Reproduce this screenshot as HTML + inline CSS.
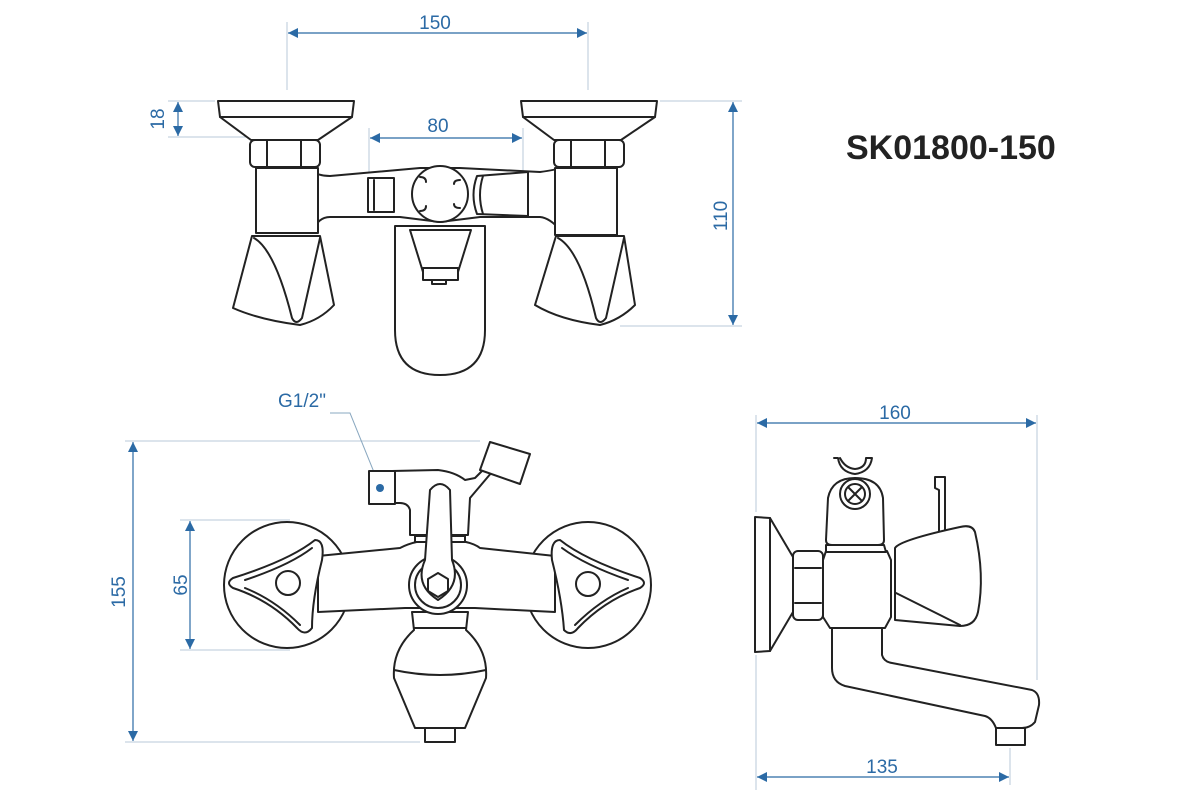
<!DOCTYPE html>
<html><head><meta charset="utf-8"><style>
html,body{margin:0;padding:0;background:#fff}
svg{display:block}
.o{fill:#fff;stroke:#222;stroke-width:2;stroke-linejoin:round}
.n{fill:none;stroke:#222;stroke-width:2;stroke-linejoin:round;stroke-linecap:round}
.d{stroke:#2b6aa5;stroke-width:1.2;fill:none}
.e{stroke:#b8c8d8;stroke-width:1;fill:none}
.t{fill:#2b6aa5;font-family:"Liberation Sans",sans-serif;font-size:19px}
</style></head><body>
<svg width="1181" height="808" viewBox="0 0 1181 808" xmlns="http://www.w3.org/2000/svg">
<defs>
<marker id="a" viewBox="0 0 10 10" refX="10" refY="5" markerWidth="14" markerHeight="10" markerUnits="userSpaceOnUse" orient="auto-start-reverse"><path d="M0,0L10,5L0,10z" fill="#2b6aa5"/></marker>
</defs>

<!-- ===== TOP VIEW ===== -->
<!-- dims -->
<line class="e" x1="287" y1="22" x2="287" y2="90"/>
<line class="e" x1="588" y1="22" x2="588" y2="90"/>
<line class="d" x1="288" y1="33" x2="587" y2="33" marker-start="url(#a)" marker-end="url(#a)"/>
<text class="t" x="435" y="29" text-anchor="middle">150</text>
<line class="e" x1="168" y1="101" x2="215" y2="101"/>
<line class="e" x1="168" y1="137" x2="250" y2="137"/>
<line class="d" x1="178" y1="102" x2="178" y2="136" marker-start="url(#a)" marker-end="url(#a)"/>
<text class="t" transform="translate(164,119) rotate(-90)" text-anchor="middle">18</text>
<line class="e" x1="369" y1="128" x2="369" y2="172"/>
<line class="e" x1="523" y1="128" x2="523" y2="172"/>
<line class="d" x1="370" y1="138" x2="522" y2="138" marker-start="url(#a)" marker-end="url(#a)"/>
<text class="t" x="438" y="132" text-anchor="middle">80</text>
<line class="e" x1="660" y1="101" x2="742" y2="101"/>
<line class="e" x1="620" y1="326" x2="742" y2="326"/>
<line class="d" x1="733" y1="102" x2="733" y2="325" marker-start="url(#a)" marker-end="url(#a)"/>
<text class="t" transform="translate(727,216) rotate(-90)" text-anchor="middle">110</text>

<!-- lever below center -->
<path class="o" d="M395,226 L485,226 L485,330 Q485,375 440,375 Q395,375 395,330 Z"/>
<path class="o" d="M410,230 L471,230 L458,272 L423,272 Z"/>
<rect class="o" x="423" y="268" width="35" height="12"/>
<rect class="o" x="432" y="280" width="14" height="4"/>
<!-- body arms -->
<path class="o" d="M310,170 Q318,176 330,176 L420,168 L460,168 L540,172 Q555,170 560,168 L560,230 Q550,218 540,217 L480,217 L440,222 L400,217 L330,217 Q318,217 312,232 Z"/>
<!-- left body -->
<path class="o" d="M256,168 L318,168 L318,233 L256,233 Z"/>
<path class="o" d="M555,168 L617,168 L617,235 L555,235 Z"/>
<!-- central ball -->
<circle class="o" cx="440" cy="194" r="28"/>
<path class="n" d="M420,177 q6,0 6,5 M420,211 q6,0 6,-5 M460,180 q-6,0 -6,4 M460,208 q-6,0 -6,-4"/>
<rect class="o" x="368" y="178" width="26" height="34"/>
<line class="n" x1="374" y1="180" x2="374" y2="210"/>
<path class="o" d="M477,176 L528,172 L528,216 L477,214 Q470,195 477,176 Z"/>
<path class="n" d="M483,176 Q477,195 483,214"/>
<!-- escutcheons -->
<path class="o" d="M218,101 L354,101 L352,117 L318,140 L251,140 L220,117 Z"/>
<line class="n" x1="220" y1="117" x2="352" y2="117"/>
<path class="o" d="M521,101 L657,101 L655,117 L621,140 L554,140 L523,117 Z"/>
<line class="n" x1="523" y1="117" x2="655" y2="117"/>
<!-- nuts -->
<rect class="o" x="250" y="140" width="70" height="27" rx="5"/>
<line class="n" x1="267" y1="141" x2="267" y2="166"/><line class="n" x1="301" y1="141" x2="301" y2="166"/>
<rect class="o" x="554" y="140" width="70" height="27" rx="5"/>
<line class="n" x1="571" y1="141" x2="571" y2="166"/><line class="n" x1="605" y1="141" x2="605" y2="166"/>
<!-- cross handles -->
<path class="o" d="M252,236 L320,236 L334,305 Q320,320 300,325 Q260,320 233,308 Z"/>
<path class="n" d="M254,238 Q275,250 292,318 Q296,326 302,318 L320,238"/>
<path class="o" d="M556,236 L624,236 L635,305 Q620,320 600,325 Q560,320 535,305 Z"/>
<path class="n" d="M558,238 Q580,250 596,318 Q600,326 606,318 L624,238"/>

<!-- title -->
<text x="846" y="159" fill="#222" font-family="Liberation Sans,sans-serif" font-weight="bold" font-size="34">SK01800-150</text>

<!-- ===== FRONT VIEW ===== -->
<line class="e" x1="125" y1="441" x2="480" y2="441"/>
<line class="e" x1="125" y1="742" x2="420" y2="742"/>
<line class="d" x1="133" y1="442" x2="133" y2="741" marker-start="url(#a)" marker-end="url(#a)"/>
<text class="t" transform="translate(125,592) rotate(-90)" text-anchor="middle">155</text>
<line class="e" x1="180" y1="520" x2="290" y2="520"/>
<line class="e" x1="180" y1="650" x2="290" y2="650"/>
<line class="d" x1="190" y1="521" x2="190" y2="649" marker-start="url(#a)" marker-end="url(#a)"/>
<text class="t" transform="translate(187,585) rotate(-90)" text-anchor="middle">65</text>
<text class="t" x="302" y="407" text-anchor="middle">G1/2"</text>
<path class="e" d="M330,413 L350,413 L380,487" style="stroke:#8aa8c0"/>

<circle class="o" cx="287" cy="585" r="63"/>
<circle class="o" cx="588" cy="585" r="63"/>
<!-- upper outlet -->
<path class="o" d="M392,471 L438,470 Q455,472 465,480 L475,478 L485,468 L492,472 L470,498 L468,535 L410,535 L410,510 Q408,503 400,503 L392,503 Z"/>
<rect class="o" x="369" y="471" width="26" height="33"/>
<circle cx="380" cy="488" r="4" fill="#2b6aa5"/>
<path class="o" d="M490,442 L530,454 L520,484 L480,470 Z"/>
<!-- body bar -->
<path class="o" d="M318,556 L400,548 Q415,540 440,539 Q470,540 480,548 L555,556 L555,612 L475,608 L405,608 L318,612 Z"/>
<rect class="o" x="415" y="536" width="50" height="6"/>
<!-- bottom spout -->
<path class="o" d="M412,612 L468,612 L466,630 Q488,650 486,678 L465,728 L415,728 L394,678 Q392,650 414,630 Z"/>
<path class="n" d="M394,670 Q440,680 486,670"/>
<line class="n" x1="414" y1="628" x2="466" y2="628"/>
<rect class="o" x="425" y="728" width="30" height="14"/>
<!-- boss & lever -->
<circle class="o" cx="438" cy="585" r="29"/>
<circle class="n" cx="438" cy="585" r="23"/>
<path class="o" d="M430,490 Q440,478 450,490 L452,560 Q462,585 438,600 Q414,585 425,560 Z"/>
<polygon class="o" points="438,573 448,579 448,591 438,597 428,591 428,579"/>
<!-- triangle handles -->
<path class="o" d="M233,578 Q290,560 315,540 Q325,540 322,560 Q312,600 312,628 Q305,637 297,628 Q270,600 233,588 Q225,583 233,578 Z"/>
<path class="n" d="M245,580 Q290,565 312,548 M245,588 Q275,600 300,625"/>
<circle class="o" cx="288" cy="583" r="12"/>
<path class="o" d="M640,578 Q585,560 560,540 Q550,540 552,560 Q562,600 564,630 Q571,637 578,628 Q605,600 640,588 Q648,583 640,578 Z"/>
<path class="n" d="M628,580 Q585,565 562,548 M628,588 Q600,600 575,625"/>
<circle class="o" cx="588" cy="584" r="12"/>

<!-- ===== SIDE VIEW ===== -->
<line class="e" x1="756" y1="415" x2="756" y2="512"/>
<line class="e" x1="756" y1="655" x2="756" y2="790"/>
<line class="e" x1="1037" y1="415" x2="1037" y2="680"/>
<line class="e" x1="1010" y1="748" x2="1010" y2="785"/>
<line class="d" x1="757" y1="423" x2="1036" y2="423" marker-start="url(#a)" marker-end="url(#a)"/>
<text class="t" x="895" y="419" text-anchor="middle">160</text>
<line class="d" x1="757" y1="777" x2="1009" y2="777" marker-start="url(#a)" marker-end="url(#a)"/>
<text class="t" x="882" y="773" text-anchor="middle">135</text>

<!-- spout -->
<path class="o" d="M832,626 L882,626 L882,655 Q884,662 892,663 L1032,690 Q1040,693 1039,705 L1035,722 Q1030,728 1022,728 L996,728 Q992,718 985,716 L845,686 Q832,682 832,668 Z"/>
<rect class="o" x="996" y="728" width="29" height="17"/>
<!-- escutcheon -->
<path class="o" d="M755,517 L770,518 L793,557 L793,612 L770,651 L755,652 Z"/>
<line class="n" x1="770" y1="518" x2="770" y2="651"/>
<rect class="o" x="793" y="551" width="30" height="69" rx="5"/>
<line class="n" x1="795" y1="568" x2="821" y2="568"/><line class="n" x1="795" y1="603" x2="821" y2="603"/>
<!-- body -->
<path class="o" d="M826,551 L887,551 L891,560 L891,617 L885,628 L830,628 L823,617 L823,560 Z"/>
<path class="o" d="M826,545 L884,545 L886,552 L826,552 Z"/>
<!-- upper block -->
<path class="o" d="M826,540 L828,498 Q832,478 855,478 Q880,478 883,498 L884,540 Q884,545 878,545 L832,545 Q826,545 826,540 Z"/>
<circle class="o" cx="855" cy="494" r="15"/>
<circle class="n" cx="855" cy="494" r="10"/>
<path class="n" d="M848,487 L862,501 M862,487 L848,501"/>
<path class="n" d="M834,458 L838,458 Q840,472 855,474 Q870,472 872,458 L866,458 Q866,468 855,469 Q845,468 840,458"/>
<!-- rod -->
<path class="o" d="M935,477 L945,477 L945,532 L939,532 L939,490 L935,488 Z"/>
<!-- side handle -->
<path class="o" d="M895,548 Q900,540 960,527 Q972,524 975,532 Q985,575 978,612 Q975,626 960,626 L895,620 Z"/>
<path class="n" d="M896,593 L960,625"/>
</svg>
</body></html>
